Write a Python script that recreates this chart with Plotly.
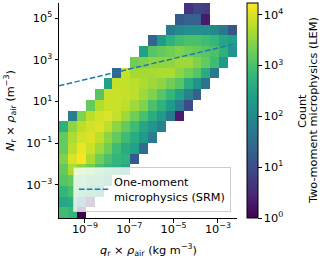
import numpy as np
import plotly.graph_objects as go

# ---- data (log10 of axis extents / bin edges) ----
X_LOG_MIN, X_LOG_MAX = -10.17, -2.14   # log10(q_r * rho_air)
Y_LOG_MIN, Y_LOG_MAX = -4.59, 5.72     # log10(N_r * rho_air)
N_BINS = 20

# counts per 2D bin, rows from lowest N bin (bottom) to highest (top); None = empty
N = None
counts = [
    [800, 630, 1] + [N] * 17,                                                    # row 19 (bottom)
    [316, 400, 32, 2] + [N] * 16,
    [630, 1000, 630, 400, 160] + [N] * 15,
    [1260, 1600, 1000, 800, 630, 316] + [N] * 14,
    [1600, 5000, 3200, 2000, 1000, 630, 500, 316] + [N] * 12,
    [2500, 10000, 15800, 5000, 2000, 1000, 630, 500, 16] + [N] * 11,
    [1600, 6300, 12600, 7900, 4000, 2000, 800, 400, 250, 32] + [N] * 10,
    [1600, 5000, 8900, 10000, 6300, 3200, 1600, 800, 400, 200, 63] + [N] * 9,
    [500, 3200, 6300, 8900, 10000, 6300, 3200, 1600, 800, 316, 160, 80] + [N] * 8,
    [N, 63, 2500, 6300, 8900, 10000, 7100, 4000, 2000, 1000, 400, 200, 50, 2] + [N] * 6,
    [N, N, N, 1600, 5600, 7900, 7900, 6300, 4000, 2500, 1000, 500, 200, 63, 10] + [N] * 5,
    [N] * 4 + [1260, 7900, 7900, 7100, 6300, 4000, 2500, 1260, 630, 250, 80, 20] + [N] * 4,
    [N] * 5 + [250, 7100, 7100, 6300, 5000, 4000, 3200, 2000, 1260, 400, 160, 40] + [N] * 3,
    [N] * 6 + [25, 7100, 4500, 4500, 4500, 5000, 5000, 3200, 2000, 1260, 400, 50] + [N] * 2,
    [N] * 8 + [2000, 2500, 3200, 3200, 3200, 4000, 4000, 2500, 1600, 800, 200] + [N],
    [N] * 9 + [250, 1260, 1600, 2000, 2500, 2000, 1600, 1260, 1000, 500, 160],
    [N] * 10 + [25, 200, 500, 800, 1000, 1000, 800, 630, 316, 250],
    [N] * 12 + [63, 100, 126, 126, 126, 100, 50, 13],
    [N] * 13 + [16, 20, 20, 2] + [N] * 3,
    [N] * 14 + [4, 8, 6] + [N] * 3,                                              # row 0 (top)
]

# one-moment (SRM) relation: end points (log10 values)
srm_logq = [-10.17, -2.14]
srm_logN = [1.75, 3.78]

x_tick_vals = [-9, -7, -5, -3]
y_tick_vals = [-3, -1, 1, 3, 5]
cb_tick_vals = [0, 1, 2, 3, 4]
CB_MAX = 4.23

x_title = "<i>q</i><sub>r</sub> × <i>ρ</i><sub>air</sub> (kg m<sup>\u22123</sup>)"
y_title = "<i>N</i><sub>r</sub> × <i>ρ</i><sub>air</sub> (m<sup>\u22123</sup>)"
cb_title_lines = ["Count", "Two-moment microphysics (LEM)"]
legend_label = "One-moment<br>microphysics (SRM)"

# ---- build ----
x_edges = np.linspace(X_LOG_MIN, X_LOG_MAX, N_BINS + 1)
y_edges = np.linspace(Y_LOG_MIN, Y_LOG_MAX, N_BINS + 1)
z = [[(np.log10(v) if v is not None else None) for v in row] for row in counts]


def sup(v):
    s = str(v).replace("-", "\u2212")
    return f"10<sup>{s}</sup>"


FONT = "DejaVu Sans"
FS = 11.3
W, H = 320, 260
ML, MR, MT, MB = 59, 83, 3, 42
PW, PH = W - ML - MR, H - MT - MB


def px_x(px):
    return (px - ML) / PW


def px_y(py):
    return (H - MB - py) / PH


fig = go.Figure()
fig.add_trace(go.Heatmap(
    x=x_edges, y=y_edges, z=z,
    colorscale="Viridis", zmin=0, zmax=CB_MAX,
    showscale=True,
    colorbar=dict(
        tickvals=cb_tick_vals, ticktext=[sup(v) for v in cb_tick_vals],
        ticks="outside", ticklen=3.5, tickwidth=1, tickcolor="black",
        tickfont=dict(family=FONT, size=FS, color="black"),
        thickness=11, thicknessmode="pixels",
        len=1, lenmode="fraction", y=0.5, yanchor="middle",
        x=px_x(247), xanchor="left", xpad=0, ypad=0,
        outlinewidth=1, outlinecolor="black",
    ),
    showlegend=False, hoverinfo="skip",
))
fig.add_trace(go.Scatter(
    x=srm_logq, y=srm_logN, mode="lines",
    line=dict(color="#1f77b4", width=1.5, dash="5.5px,2.4px"),
    name=legend_label, showlegend=True,
))

axis_common = dict(
    showgrid=False, zeroline=False, showline=True, linecolor="black", linewidth=1,
    ticks="outside", ticklen=3.5, tickwidth=1, tickcolor="black",
    tickfont=dict(family=FONT, size=FS, color="black"), mirror=False,
)
fig.update_xaxes(
    range=[X_LOG_MIN, X_LOG_MAX], tickvals=x_tick_vals,
    ticktext=[sup(v) for v in x_tick_vals], ticklabelstandoff=-3,
    **axis_common,
)
fig.update_yaxes(
    range=[Y_LOG_MIN, Y_LOG_MAX], tickvals=y_tick_vals,
    ticktext=[sup(v) for v in y_tick_vals],
    **axis_common,
)

ann_font = dict(family=FONT, size=FS, color="black")
fig.add_annotation(text=x_title, xref="paper", yref="paper",
                   x=px_x(148), y=px_y(250), xanchor="center", yanchor="middle",
                   showarrow=False, font=ann_font)
fig.add_annotation(text=y_title, xref="paper", yref="paper",
                   x=px_x(10), y=px_y(111), xanchor="center", yanchor="middle",
                   textangle=-90, showarrow=False, font=ann_font)
for txt, xp in zip(cb_title_lines, [302, 313]):
    fig.add_annotation(text=txt, xref="paper", yref="paper",
                       x=px_x(xp), y=px_y(111), xanchor="center", yanchor="middle",
                       textangle=-90, showarrow=False, font=ann_font)

fig.update_layout(
    width=W, height=H,
    margin=dict(l=ML, r=MR, t=MT, b=MB),
    paper_bgcolor="white", plot_bgcolor="white",
    font=dict(family=FONT, size=FS, color="black"),
    legend=dict(
        x=px_x(73), y=px_y(212), xanchor="left", yanchor="bottom",
        bgcolor="rgba(255,255,255,0.8)", bordercolor="#cccccc", borderwidth=1,
        font=dict(family=FONT, size=FS, color="black"),
        itemwidth=30, tracegroupgap=0,
    ),
)

fig.write_html("out.html",
               config={"displayModeBar": False, "staticPlot": True},
               post_script="document.body.style.margin='0';document.body.style.overflow='hidden';")
